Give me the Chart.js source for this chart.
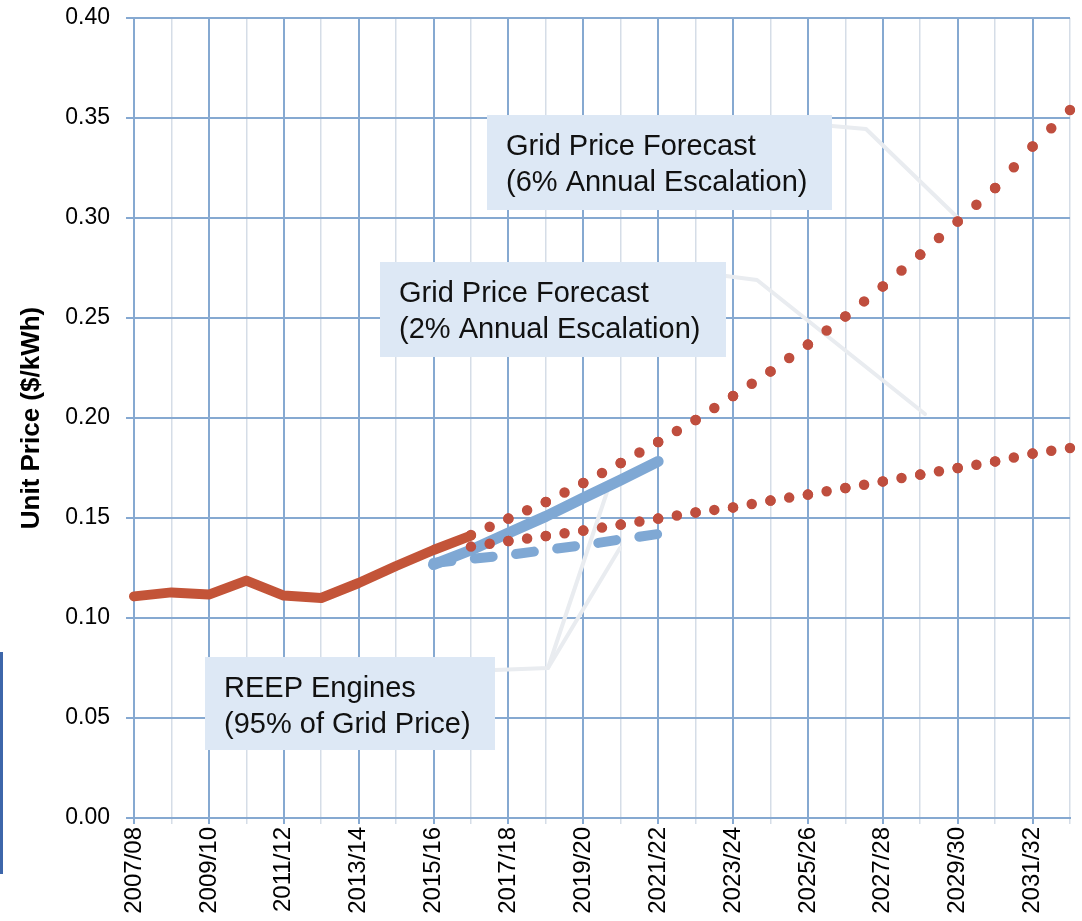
<!DOCTYPE html>
<html>
<head>
<meta charset="utf-8">
<script src="https://cdn.jsdelivr.net/npm/chart.js@4.4.1/dist/chart.umd.min.js"></script>
<style>
  html, body { margin: 0; padding: 0; background: #ffffff; }
  #wrap { position: relative; width: 1082px; height: 921px; }
</style>
</head>
<body>
<div id="wrap"><canvas id="c" width="1082" height="921"></canvas></div>
<script>
// ---------------- data ----------------
const categories = [
  '2007/08','2008/09','2009/10','2010/11','2011/12','2012/13','2013/14','2014/15',
  '2015/16','2016/17','2017/18','2018/19','2019/20','2020/21','2021/22','2022/23',
  '2023/24','2024/25','2025/26','2026/27','2027/28','2028/29','2029/30','2030/31',
  '2031/32','2032/33'
];
// historic grid price ($/kWh)
const historicPrice = [
  0.1108, 0.1128, 0.1117, 0.1187, 0.1112, 0.1100, 0.1175, 0.1260,
  0.1340, 0.1412, null, null, null, null, null, null,
  null, null, null, null, null, null, null, null, null, null
];
// grid price forecast, 6% annual escalation
const forecast6 = [
  null, null, null, null, null, null, null, null,
  null, 0.1415, 0.1497, 0.1580, 0.1675, 0.1775, 0.1880, 0.1990,
  0.2110, 0.2233, 0.2367, 0.2508, 0.2658, 0.2817, 0.2983, 0.3150,
  0.3358, 0.3540
];
// grid price forecast, 2% annual escalation
const forecast2 = [
  null, null, null, null, null, null, null, null,
  null, 0.1357, 0.1385, 0.1410, 0.1437, 0.1467, 0.1497, 0.1528,
  0.1553, 0.1587, 0.1617, 0.1650, 0.1683, 0.1717, 0.1750, 0.1783,
  0.1822, 0.1850
];
// REEP engines, 95% of grid price (6% case)
const reep6 = [
  null, null, null, null, null, null, null, null,
  0.1267, 0.1340, 0.1425, 0.1508, 0.1600, 0.1690, 0.1783, null,
  null, null, null, null, null, null, null, null, null, null
];
// REEP engines, 95% of grid price (2% case)
const reep2 = [
  null, null, null, null, null, null, null, null,
  0.1275, 0.1295, 0.1315, 0.1340, 0.1364, 0.1393, 0.1420, null,
  null, null, null, null, null, null, null, null, null, null
];
const yAxisTitle = 'Unit Price ($/kWh)';
const noteTexts = [
  ['Grid Price Forecast', '(6% Annual Escalation)'],
  ['Grid Price Forecast', '(2% Annual Escalation)'],
  ['REEP Engines', '(95% of Grid Price)']
];

// ---------------- styling ----------------
const FONT = "'Liberation Sans', Arial, Helvetica, sans-serif";
Chart.defaults.font.family = FONT;
Chart.defaults.color = '#000000';

const RED_LINE = '#c35438';
const RED_DOT = '#bf4e3e';
const BLUE = '#7fa8d4';
const GRID_BLUE = '#86a9d1';
const GRID_LIGHT = '#d5dde7';

// dotted style: two round dots per category step
const dotSegment = {
  borderDash: (ctx) => {
    const d = Math.hypot(ctx.p1.x - ctx.p0.x, ctx.p1.y - ctx.p0.y);
    return [0, d / 2 - 0.01];
  }
};

const notesPlugin = {
  id: 'notes',
  beforeDatasetsDraw(chart) {
    const ctx = chart.ctx;
    ctx.save();
    ctx.strokeStyle = '#e9ecf0';
    ctx.lineWidth = 4;
    ctx.lineCap = 'round';
    ctx.lineJoin = 'round';
    const paths = [
      [[832, 126], [866, 129], [958, 218]],
      [[726, 276], [757, 280], [925, 414]],
      [[495, 670], [548, 668], [607, 492]],
      [[548, 668], [620, 548]]
    ];
    paths.forEach(p => {
      ctx.beginPath();
      ctx.moveTo(p[0][0], p[0][1]);
      for (let i = 1; i < p.length; i++) ctx.lineTo(p[i][0], p[i][1]);
      ctx.stroke();
    });
    ctx.restore();
  },
  afterDatasetsDraw(chart) {
    const ctx = chart.ctx;
    const boxes = [
      { x: 487, y: 115, w: 345, h: 95 },
      { x: 380, y: 262, w: 346, h: 95 },
      { x: 205, y: 657, w: 290, h: 93 }
    ];
    ctx.save();
    boxes.forEach((b, i) => {
      ctx.fillStyle = '#dde8f5';
      ctx.fillRect(b.x, b.y, b.w, b.h);
      ctx.fillStyle = '#111111';
      ctx.font = '29px ' + FONT;
      ctx.textAlign = 'left';
      ctx.textBaseline = 'alphabetic';
      ctx.fillText(noteTexts[i][0], b.x + 19, b.y + 40);
      ctx.fillText(noteTexts[i][1], b.x + 19, b.y + 76);
    });
    // scanned page edge mark on the far left
    ctx.fillStyle = '#3d66aa';
    ctx.fillRect(0, 652, 3, 222);
    ctx.restore();
  }
};

new Chart(document.getElementById('c'), {
  type: 'line',
  data: {
    labels: categories,
    datasets: [
      {
        label: 'Historic',
        data: historicPrice,
        borderColor: RED_LINE,
        borderWidth: 10,
        borderCapStyle: 'round',
        borderJoinStyle: 'round',
        pointRadius: 0,
        order: 1
      },
      {
        label: 'Grid 6%',
        data: forecast6,
        borderColor: RED_DOT,
        borderWidth: 10.5,
        borderCapStyle: 'round',
        pointRadius: 0,
        segment: dotSegment,
        order: 2
      },
      {
        label: 'Grid 2%',
        data: forecast2,
        borderColor: RED_DOT,
        borderWidth: 10.5,
        borderCapStyle: 'round',
        pointRadius: 0,
        segment: dotSegment,
        order: 3
      },
      {
        label: 'REEP 6%',
        data: reep6,
        borderColor: BLUE,
        borderWidth: 11,
        borderCapStyle: 'round',
        borderJoinStyle: 'round',
        pointRadius: 0,
        order: 4
      },
      {
        label: 'REEP 2%',
        data: reep2,
        borderColor: BLUE,
        borderWidth: 10,
        borderCapStyle: 'round',
        borderDash: [18, 23.5],
        pointRadius: 0,
        order: 5
      }
    ]
  },
  options: {
    responsive: false,
    animation: false,
    events: [],
    layout: { padding: { left: 0, right: 12, top: 18, bottom: 0 } },
    plugins: {
      legend: { display: false },
      tooltip: { enabled: false },
      title: { display: false }
    },
    scales: {
      x: {
        type: 'category',
        offset: false,
        grid: {
          color: (c) => (c.index % 2 === 0 ? GRID_BLUE : GRID_LIGHT),
          lineWidth: (c) => (c.index % 2 === 0 ? 2 : 1.5),
          tickLength: 6,
          drawTicks: true
        },
        border: { color: GRID_BLUE, width: 2 },
        ticks: {
          autoSkip: false,
          maxRotation: 90,
          minRotation: 90,
          padding: 3,
          color: '#000000',
          font: { size: 24 },
          callback: (val, i) => (i % 2 === 0 ? categories[i] : '')
        },
        afterFit: (s) => {
          s.height = 103;
          s.paddingLeft = 0;
          s.paddingRight = 0;
        }
      },
      y: {
        min: 0,
        max: 0.4,
        grid: { color: GRID_BLUE, lineWidth: 2, tickLength: 8 },
        border: { color: GRID_BLUE, width: 2 },
        ticks: {
          stepSize: 0.05,
          padding: 16,
          color: '#000000',
          font: { size: 23 },
          callback: (v) => v.toFixed(2)
        },
        title: {
          display: true,
          text: yAxisTitle,
          color: '#000000',
          font: { size: 26, weight: 'bold' },
          padding: { top: 16, bottom: 0 }
        },
        afterFit: (s) => {
          s.width = 134;
          s.paddingTop = 0;
          s.paddingBottom = 0;
        }
      }
    }
  },
  plugins: [notesPlugin]
});
</script>
</body>
</html>
